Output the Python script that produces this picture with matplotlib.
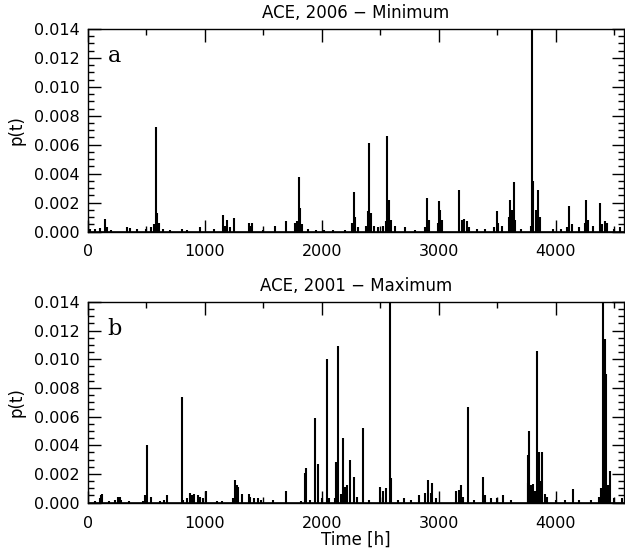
#!/usr/bin/env python3
"""Spike time series p(t) from ACE for solar minimum (2006) and maximum (2001)."""

import matplotlib

matplotlib.use("Agg")
import matplotlib.pyplot as plt
from matplotlib.ticker import MultipleLocator

# Panel a: ACE 2006 (solar minimum) -- hours and p(t) values
hours_2006 = [
    0, 20, 60, 100, 145, 160, 200, 330, 360, 420, 500, 540, 565, 581, 590,
    605, 640, 700, 800, 850, 960, 1080, 1157, 1175, 1190, 1215, 1248, 1376,
    1390, 1402, 1500, 1598, 1692, 1769, 1785, 1803, 1812, 1830, 1880, 1950,
    2020, 2100, 2200, 2260, 2274, 2285, 2310, 2380, 2395, 2407, 2418, 2450,
    2480, 2520, 2545, 2561, 2572, 2590, 2630, 2715, 2800, 2880, 2903, 2915,
    2990, 3003, 3015, 3030, 3177, 3195, 3215, 3240, 3260, 3330, 3400, 3470,
    3496, 3510, 3540, 3600, 3612, 3628, 3641, 3655, 3700, 3790, 3800, 3808,
    3830, 3846, 3870, 3980, 4050, 4100, 4117, 4140, 4200, 4250, 4262, 4280,
    4320, 4376, 4400, 4420, 4440, 4500, 4550,
]
p_2006 = [
    0.00067, 0.0002, 0.0002, 0.00025, 0.0009, 0.0003, 0.0001, 0.0003, 0.00025,
    0.0002, 0.0002, 0.0003, 0.0005, 0.0072, 0.0013, 0.0006, 0.0002, 0.0001,
    0.0002, 0.0001, 0.0003, 0.0002, 0.00115, 0.0004, 0.0008, 0.0003, 0.00097,
    0.0006, 0.0004, 0.0006, 0.0001, 0.0004, 0.0007, 0.0006, 0.0007, 0.00375,
    0.0016, 0.0005, 0.0002, 0.0001, 0.0001, 0.0001, 0.0001, 0.0006, 0.0027,
    0.001, 0.0003, 0.0004, 0.0014, 0.0061, 0.0013, 0.0004, 0.0003, 0.0004,
    0.0007, 0.0066, 0.0022, 0.0008, 0.0004, 0.0003, 0.0001, 0.0003, 0.0023,
    0.0008, 0.0006, 0.0021, 0.0015, 0.0008, 0.0029, 0.0008, 0.0009, 0.0007,
    0.0003, 0.0002, 0.0002, 0.0003, 0.0014, 0.0006, 0.0004, 0.0010, 0.0022,
    0.0015, 0.0034, 0.0008, 0.0002, 0.0004, 0.0160, 0.0035, 0.0015, 0.0029,
    0.0010, 0.0002, 0.0002, 0.0003, 0.0018, 0.0005, 0.0003, 0.0006, 0.0022,
    0.0008, 0.0004, 0.0020, 0.0005, 0.0007, 0.0006, 0.0002, 0.0003,
]

# Panel b: ACE 2001 (solar maximum)
hours_2001 = [
    60, 100, 111, 122, 180, 230, 255, 270, 285, 350, 470, 490, 504, 536, 620,
    650, 678, 801, 815, 850, 875, 890, 910, 940, 960, 980, 1006, 1100, 1150,
    1240, 1259, 1272, 1285, 1319, 1376, 1390, 1420, 1450, 1480, 1580, 1690,
    1820, 1855, 1869, 1900, 1946, 1969, 2000, 2048, 2060, 2110, 2122, 2137,
    2160, 2182, 2200, 2215, 2245, 2276, 2300, 2353, 2400, 2501, 2520, 2553,
    2581, 2590, 2650, 2700, 2760, 2829, 2880, 2912, 2930, 2946, 2980, 3150,
    3170, 3188, 3210, 3251, 3300, 3382, 3400, 3450, 3500, 3553, 3620, 3760,
    3768, 3775, 3790, 3810, 3825, 3843, 3858, 3870, 3887, 3910, 3930, 4000,
    4080, 4148, 4200, 4300, 4370, 4390, 4405, 4419, 4433, 4445, 4462, 4500,
    4570,
]
p_2001 = [
    0.0001, 0.0003, 0.0005, 0.0006, 0.0001, 0.0002, 0.0004, 0.0004, 0.0002,
    0.0001, 0.0001, 0.0005, 0.0040, 0.0004, 0.0001, 0.0002, 0.0005, 0.0074,
    0.0002, 0.0003, 0.0007, 0.0005, 0.0006, 0.0005, 0.0004, 0.0003, 0.0008,
    0.0001, 0.0001, 0.0003, 0.0016, 0.0012, 0.0011, 0.0006, 0.0006, 0.0004,
    0.0003, 0.0003, 0.0002, 0.0002, 0.0008, 0.0001, 0.0021, 0.0024, 0.0002,
    0.0059, 0.0027, 0.0003, 0.0100, 0.0003, 0.0003, 0.0028, 0.0109, 0.0006,
    0.0045, 0.0011, 0.0012, 0.0030, 0.0018, 0.0004, 0.0052, 0.0002, 0.0011,
    0.0008, 0.0010, 0.0160, 0.0017, 0.0002, 0.0003, 0.0002, 0.0005, 0.0007,
    0.0016, 0.0007, 0.0014, 0.0003, 0.0008, 0.0009, 0.0012, 0.0004, 0.0067,
    0.0002, 0.0018, 0.0005, 0.0003, 0.0003, 0.0005, 0.0002, 0.0014, 0.0033,
    0.0050, 0.0012, 0.0013, 0.0008, 0.0106, 0.0035, 0.0015, 0.0035, 0.0006,
    0.0004, 0.0002, 0.0002, 0.00095, 0.0002, 0.0002, 0.0004, 0.0010, 0.0160,
    0.0114, 0.0090, 0.0012, 0.0022, 0.0003, 0.0003,
]

titles = ["ACE, 2006 \u2212 Minimum", "ACE, 2001 \u2212 Maximum"]
panel_letters = ["a", "b"]

FONT = 11.5


def style_axis(ax):
    """IDL-like axes: ticks inside on all four sides."""
    ax.set_xlim(0, 4585)
    ax.set_ylim(-0.00003, 0.014)
    ax.xaxis.set_major_locator(MultipleLocator(1000))
    ax.xaxis.set_minor_locator(MultipleLocator(500))
    ax.yaxis.set_major_locator(MultipleLocator(0.002))
    ax.yaxis.set_minor_locator(MultipleLocator(0.0005))
    ax.yaxis.set_major_formatter(plt.FormatStrFormatter("%.3f"))
    ax.tick_params(which="both", direction="in", top=True, right=True,
                   labelsize=FONT, width=1.0, pad=6)
    ax.tick_params(axis="x", which="both", pad=9)
    ax.tick_params(which="major", length=9)
    ax.tick_params(which="minor", length=4.5)
    for sp in ax.spines.values():
        sp.set_linewidth(1.0)


fig = plt.figure(figsize=(6.25, 5.57), dpi=100)
ax_a = fig.add_axes([0.1408, 0.5835, 0.8576, 0.3645])
ax_b = fig.add_axes([0.1408, 0.0969, 0.8576, 0.3609])

for ax, hrs, vals, title, letter in zip(
    [ax_a, ax_b], [hours_2006, hours_2001], [p_2006, p_2001], titles, panel_letters
):
    ax.vlines(hrs, 0, vals, colors="black", linewidth=1.5)
    ax.axhline(0, color="black", linewidth=1.2)
    style_axis(ax)
    ax.set_title(title, fontsize=FONT + 0.5, pad=8)
    ax.set_ylabel("p(t)", fontsize=FONT + 0.5, labelpad=6)
    ax.text(0.05, 0.865, letter, transform=ax.transAxes, fontsize=16,
            family="DejaVu Serif", va="center", ha="center")

ax_b.set_xlabel("Time [h]", fontsize=FONT + 0.5, labelpad=0)

fig.savefig("out.png", dpi=100)
